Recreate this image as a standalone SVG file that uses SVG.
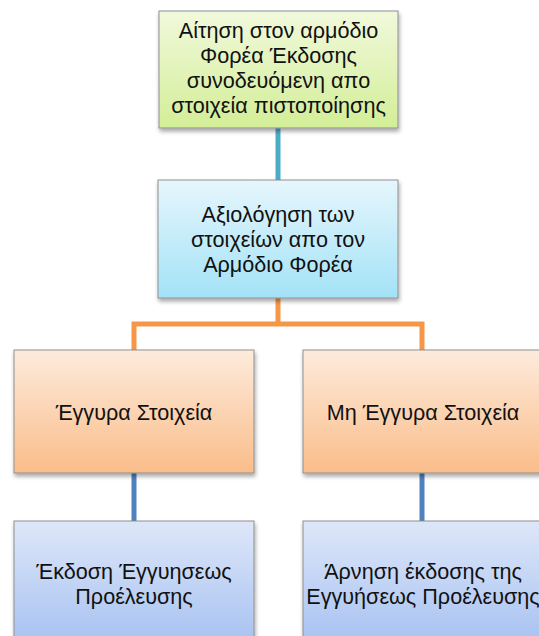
<svg xmlns="http://www.w3.org/2000/svg" width="539" height="636" viewBox="0 0 539 636">
  <defs>
    <linearGradient id="gGreen" x1="0" y1="0" x2="0" y2="1">
      <stop offset="0" stop-color="#f1f9dc"/>
      <stop offset="1" stop-color="#d3ee97"/>
    </linearGradient>
    <linearGradient id="gCyan" x1="0" y1="0" x2="0" y2="1">
      <stop offset="0" stop-color="#e6f6fc"/>
      <stop offset="1" stop-color="#a3e2f7"/>
    </linearGradient>
    <linearGradient id="gOrange" x1="0" y1="0" x2="0" y2="1">
      <stop offset="0" stop-color="#fdebdc"/>
      <stop offset="1" stop-color="#fabd8a"/>
    </linearGradient>
    <linearGradient id="gBlue" x1="0" y1="0" x2="0" y2="1">
      <stop offset="0" stop-color="#dee7f9"/>
      <stop offset="1" stop-color="#a6c1f1"/>
    </linearGradient>
    <filter id="shadow" x="-10%" y="-10%" width="125%" height="130%">
      <feGaussianBlur in="SourceAlpha" stdDeviation="2"/>
      <feOffset dx="1" dy="3" result="b"/>
      <feComponentTransfer><feFuncA type="linear" slope="0.35"/></feComponentTransfer>
      <feMerge><feMergeNode/><feMergeNode in="SourceGraphic"/></feMerge>
    </filter>
  </defs>
  <style>
    .box { stroke: #8f8f8f; stroke-width: 1; filter: url(#shadow); }
    .lbl { font-family: "Liberation Sans", Arial, sans-serif; font-size: 21.6px; fill: #111; text-anchor: middle; }
    .c-teal { stroke: #4bacc6; stroke-width: 5; fill: none; }
    .c-orange { stroke: #f79646; stroke-width: 5; fill: none; }
    .c-blue { stroke: #4f81bd; stroke-width: 5; fill: none; }
  </style>
  <rect width="539" height="636" fill="#ffffff"/>

  <!-- connectors -->
  <g id="connectors">
    <line class="c-teal" x1="278" y1="128" x2="278" y2="180"/>
    <polyline class="c-orange" points="134,350 134,324 422,324 422,350"/>
    <line class="c-orange" x1="278" y1="298" x2="278" y2="324"/>
    <line class="c-blue" x1="134" y1="473" x2="134" y2="521"/>
    <line class="c-blue" x1="422" y1="473" x2="422" y2="521"/>
  </g>

  <g id="node-request">
    <rect class="box" x="159" y="11" width="239" height="117" fill="url(#gGreen)"/>
    <text class="lbl" x="278.5" y="38">Αίτηση στον αρμόδιο</text>
    <text class="lbl" x="278.5" y="63">Φορέα Έκδοσης</text>
    <text class="lbl" x="278.5" y="88">συνοδευόμενη απο</text>
    <text class="lbl" x="278.5" y="113">στοιχεία πιστοποίησης</text>
  </g>

  <g id="node-evaluation">
    <rect class="box" x="158" y="180" width="240" height="118" fill="url(#gCyan)"/>
    <text class="lbl" x="278" y="222">Αξιολόγηση των</text>
    <text class="lbl" x="278" y="247">στοιχείων απο τον</text>
    <text class="lbl" x="278" y="272">Αρμόδιο Φορέα</text>
  </g>

  <g id="node-valid">
    <rect class="box" x="14" y="350" width="240" height="123" fill="url(#gOrange)"/>
    <text class="lbl" x="134" y="420">Έγγυρα Στοιχεία</text>
  </g>

  <g id="node-invalid">
    <rect class="box" x="303" y="350" width="240" height="123" fill="url(#gOrange)"/>
    <text class="lbl" x="423" y="420">Μη Έγγυρα Στοιχεία</text>
  </g>

  <g id="node-issue">
    <rect class="box" x="14" y="521" width="240" height="125" fill="url(#gBlue)"/>
    <text class="lbl" x="134" y="579">Έκδοση Έγγυησεως</text>
    <text class="lbl" x="134" y="604">Προέλευσης</text>
  </g>

  <g id="node-refuse">
    <rect class="box" x="303" y="521" width="240" height="125" fill="url(#gBlue)"/>
    <text class="lbl" x="423" y="579">Άρνηση έκδοσης της</text>
    <text class="lbl" x="423" y="604">Εγγυήσεως Προέλευσης</text>
  </g>
</svg>
